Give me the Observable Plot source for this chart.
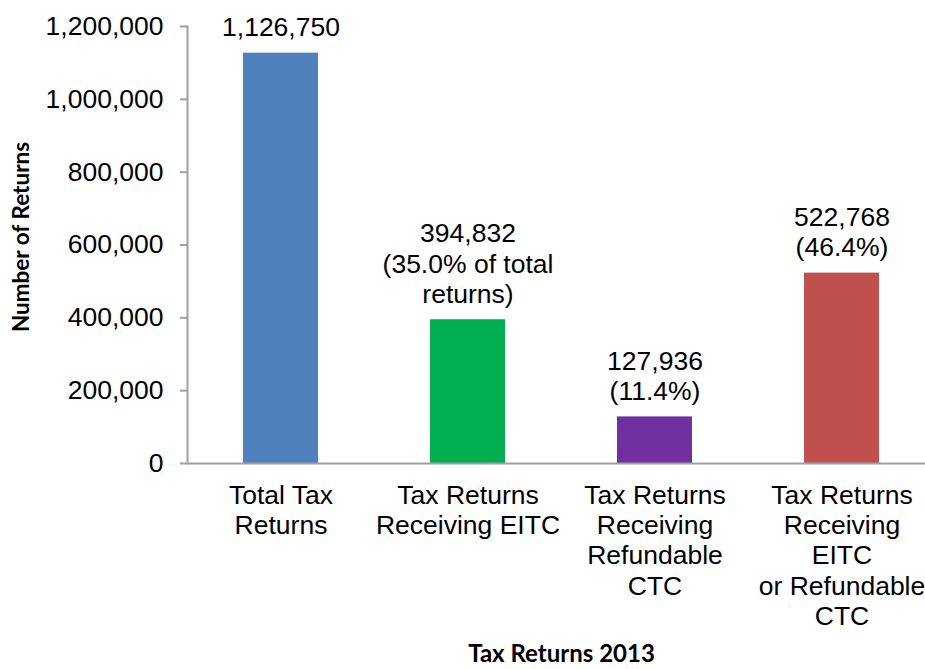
<!DOCTYPE html>
<html>
<head>
<meta charset="utf-8">
<script src="https://cdn.jsdelivr.net/npm/d3@7"></script>
<script src="https://cdn.jsdelivr.net/npm/@observablehq/plot@0.6"></script>
<style>
  html, body { margin: 0; padding: 0; background: #fff; }
  #chart svg { display: block; }
</style>
</head>
<body>
<div id="chart"></div>
<script>
const categories = [
  "Total Tax\nReturns",
  "Tax Returns\nReceiving EITC",
  "Tax Returns\nReceiving\nRefundable\nCTC",
  "Tax Returns\nReceiving\nEITC\nor Refundable\nCTC"
];
const values = [1126750, 394832, 127936, 522768];
const valueNotes = ["", "(35.0% of total\nreturns)", "(11.4%)", "(46.4%)"];
const colors = ["#4F81BD", "#00B050", "#7030A0", "#C0504D"];
const yTicks = [0, 200000, 400000, 600000, 800000, 1000000, 1200000];
const yTitle = "Number of Returns";
const xTitle = "Tax Returns 2013";

const fmt = d3.format(",");
const data = categories.map((c, i) => ({
  cat: c,
  value: values[i],
  color: colors[i],
  label: fmt(values[i]) + (valueNotes[i] ? "\n" + valueNotes[i] : "")
}));

const axisColor = "#a0a0a0";
const fontFamily = "'Liberation Sans', Arial, sans-serif";
const titleFont = "Lato, 'Open Sans', sans-serif";
const fs = 26.5;

const chart = Plot.plot({
  width: 925,
  height: 669,
  marginLeft: 187,
  marginRight: 0,
  marginTop: 26,
  marginBottom: 206,
  style: { fontFamily, fontSize: fs + "px", color: "#000", background: "#fff" },
  x: { domain: categories, range: [187, 935], paddingInner: 0.6, paddingOuter: 0.3 },
  y: { domain: [0, 1200000] },
  marks: [
    Plot.barY(data, { x: "cat", y: "value", fill: "color" }),
    Plot.ruleY([0], { stroke: axisColor, strokeWidth: 2 }),
    Plot.frame({ anchor: "left", stroke: axisColor, strokeWidth: 2 }),
    Plot.axisY({
      ticks: yTicks, tickSize: 7, tickPadding: 17, tickFormat: fmt,
      stroke: axisColor, strokeWidth: 2, fill: "#000", fontSize: fs, label: null
    }),
    Plot.axisX({
      tickSize: 0, tickPadding: 19, fontSize: fs, lineHeight: 1.14,
      fill: "#000", label: null
    }),
    Plot.text(data, {
      x: "cat", y: "value", text: "label", lineAnchor: "bottom",
      dy: -17, fontSize: fs, lineHeight: 1.14, fill: "#000"
    }),
    Plot.text([yTitle], {
      frameAnchor: "left", textAnchor: "middle", rotate: -90, dx: -166, dy: -8,
      fontSize: 22.5, fontWeight: "bold", fontFamily: titleFont, fill: "#000"
    }),
    Plot.text([xTitle], {
      frameAnchor: "bottom", dx: 5, dy: 198,
      fontSize: 24, fontWeight: "bold", fontFamily: titleFont, fill: "#000"
    })
  ]
});
document.getElementById("chart").appendChild(chart);
</script>
</body>
</html>
